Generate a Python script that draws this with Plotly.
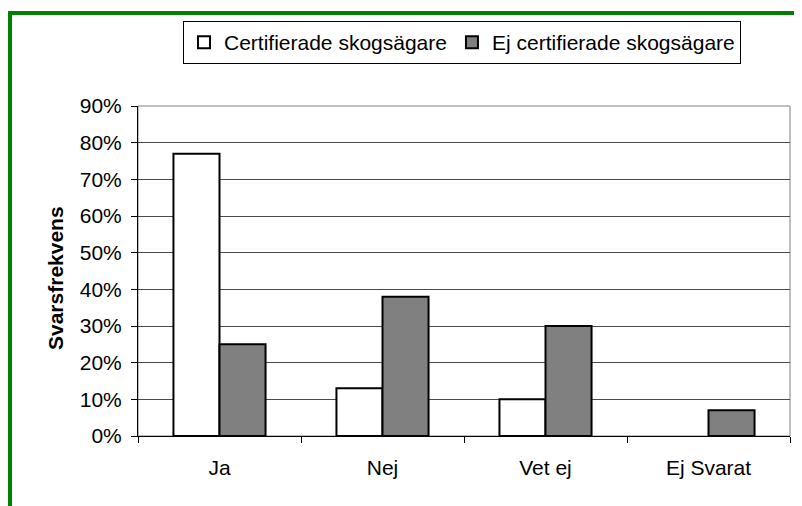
import plotly.graph_objects as go

categories = ["Ja", "Nej", "Vet ej", "Ej Svarat"]
certifierade = [0.77, 0.13, 0.10, 0.0]
ej_certifierade = [0.25, 0.38, 0.30, 0.07]
series_names = ["Certifierade skogsägare", "Ej certifierade skogsägare"]
y_title = "Svarsfrekvens"

FONT = "Arial, Liberation Sans, sans-serif"
OFF = 8  # default body margin of the html page

fig = go.Figure()
fig.add_trace(go.Bar(x=categories, y=certifierade, name=series_names[0],
                     marker=dict(color="#ffffff",
                                 line=dict(color="#000000",
                                           width=[2 if v > 0 else 0 for v in certifierade]))))
fig.add_trace(go.Bar(x=categories, y=ej_certifierade, name=series_names[1],
                     marker=dict(color="#808080",
                                 line=dict(color="#000000",
                                           width=[2 if v > 0 else 0 for v in ej_certifierade]))))

W, H = 802 - OFF, 506 - OFF
# target pixel positions in window coords
PX0, PX1, PY0, PY1 = 138, 790, 106, 436
L, R, T, B = PX0 - OFF, W - (PX1 - OFF), PY0 - OFF, H - (PY1 - OFF)
pw, ph = W - L - R, H - T - B


def px(x):
    return (x - PX0) / pw


def py(y):
    return (PY1 - y) / ph


fig.update_layout(
    width=W, height=H,
    margin=dict(l=L, r=R, t=T, b=B),
    paper_bgcolor="#ffffff", plot_bgcolor="#ffffff",
    font=dict(family=FONT, size=21, color="#000000"),
    barmode="group", bargap=0.435, bargroupgap=0,
    showlegend=True,
    legend=dict(orientation="h", x=px(183), y=py(21),
                xanchor="left", yanchor="top",
                bordercolor="#000000", borderwidth=1, bgcolor="#ffffff",
                font=dict(family=FONT, size=21, color="#000000"),
                itemwidth=30, tracegroupgap=0, traceorder="normal"),
    xaxis=dict(showgrid=False, showline=True, linecolor="#000000", linewidth=1,
               ticks="outside", tickson="boundaries", ticklen=6, tickcolor="#000000",
               ticklabelstandoff=13, tickfont=dict(size=21, family=FONT)),
    yaxis=dict(range=[0, 0.9], dtick=0.1, tick0=0, tickformat=".0%",
               showgrid=True, gridcolor="#4a4a4a", gridwidth=1,
               showline=True, linecolor="#000000", linewidth=1,
               ticks="outside", ticklen=6, tickcolor="#000000",
               ticklabelstandoff=5, tickfont=dict(size=21, family=FONT),
               zeroline=False),
    shapes=[
        dict(type="rect", xref="paper", yref="paper", x0=0, x1=1, y0=0, y1=1,
             line=dict(color="#808080", width=1), layer="below"),
        dict(type="rect", xref="paper", yref="paper",
             x0=px(10), x1=px(830), y0=py(540), y1=py(13),
             line=dict(color="#008000", width=4)),
    ],
    annotations=[
        dict(text="<b>" + y_title + "</b>", xref="paper", yref="paper",
             x=px(55), y=py(278), textangle=-90,
             showarrow=False, xanchor="center", yanchor="middle",
             font=dict(family=FONT, size=21, color="#000000")),
    ],
)

fig.write_html("out.html")
